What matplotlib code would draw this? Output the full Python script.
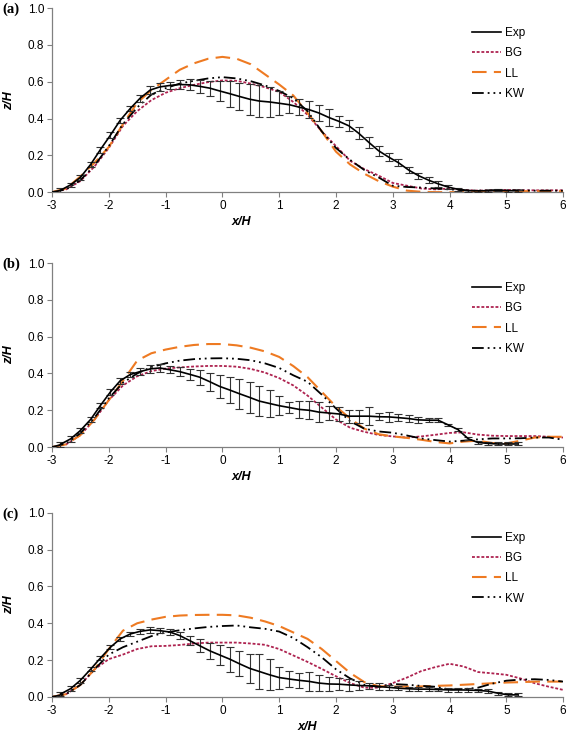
import matplotlib
matplotlib.use("Agg")
import matplotlib.pyplot as plt

plt.rcParams['font.family'] = ['Liberation Sans', 'DejaVu Sans']
plt.rcParams['axes.unicode_minus'] = False

# measurement stations (x/H) for the experiment
x_exp = [-2.85, -2.67, -2.5, -2.32, -2.15, -1.97, -1.8, -1.62, -1.45, -1.27, -1.1, -0.92,
         -0.75, -0.57, -0.4, -0.22, -0.05, 0.13, 0.3, 0.48, 0.65, 0.83, 1.0, 1.18, 1.35,
         1.53, 1.7, 1.88, 2.05, 2.23, 2.4, 2.58, 2.75, 2.93, 3.1, 3.28, 3.45, 3.63, 3.8,
         3.98, 4.15, 4.33, 4.5, 4.68, 4.85, 5.03, 5.2]

# model output grid (x/H)
x_mod = [-3.0, -2.75, -2.5, -2.25, -2.0, -1.75, -1.5, -1.25, -1.0, -0.75, -0.5, -0.25,
         0.0, 0.25, 0.5, 0.75, 1.0, 1.25, 1.5, 1.75, 2.0, 2.25, 2.5, 2.75, 3.0, 3.25,
         3.5, 3.75, 4.0, 4.25, 4.5, 4.75, 5.0, 5.25, 5.5, 5.75, 6.0]

# ---- panel (a)
exp_a = [0.01, 0.04, 0.08, 0.15, 0.23, 0.31, 0.39, 0.455, 0.51, 0.555, 0.572, 0.58,
         0.585, 0.583, 0.575, 0.565, 0.55, 0.535, 0.52, 0.505, 0.495, 0.49, 0.483, 0.475,
         0.462, 0.448, 0.43, 0.405, 0.385, 0.36, 0.32, 0.27, 0.225, 0.19, 0.16, 0.12,
         0.09, 0.065, 0.045, 0.027, 0.015, 0.008, 0.007, 0.008, 0.01, 0.008, 0.008]
err_a = [0.015, 0.012, 0.015, 0.015, 0.015, 0.015, 0.015, 0.015, 0.02, 0.02, 0.02, 0.02,
         0.025, 0.03, 0.035, 0.04, 0.055, 0.07, 0.075, 0.085, 0.088, 0.082, 0.065, 0.045,
         0.045, 0.045, 0.045, 0.045, 0.03, 0.03, 0.032, 0.028, 0.027, 0.023, 0.02, 0.018,
         0.016, 0.015, 0.015, 0.01, 0.008, 0.005, 0.005, 0.005, 0.005, 0.005, 0.005]
bg_a = [0.0, 0.015, 0.06, 0.14, 0.24, 0.36, 0.44, 0.50, 0.54, 0.565, 0.583, 0.598,
        0.607, 0.605, 0.59, 0.57, 0.545, 0.49, 0.42, 0.33, 0.25, 0.17, 0.125, 0.09,
        0.05, 0.035, 0.02, 0.015, 0.02, 0.012, 0.008, 0.01, 0.012, 0.01, 0.01, 0.01, 0.01]
ll_a = [0.0, 0.02, 0.085, 0.16, 0.245, 0.37, 0.485, 0.555, 0.61, 0.665, 0.70, 0.725,
        0.735, 0.725, 0.695, 0.64, 0.585, 0.525, 0.43, 0.33, 0.22, 0.15, 0.10, 0.06,
        0.03, 0.008, 0.002, 0.0, 0.0, 0.0, 0.002, 0.003, 0.005, 0.005, 0.005, 0.005, 0.005]
kw_a = [0.0, 0.015, 0.065, 0.145, 0.25, 0.37, 0.46, 0.53, 0.565, 0.59, 0.605, 0.618,
        0.625, 0.618, 0.603, 0.58, 0.55, 0.51, 0.44, 0.33, 0.24, 0.175, 0.12, 0.08,
        0.035, 0.028, 0.025, 0.02, 0.015, 0.01, 0.008, 0.01, 0.01, 0.01, 0.008, 0.008, 0.008]

# ---- panel (b)
exp_b = [0.015, 0.045, 0.09, 0.15, 0.225, 0.30, 0.36, 0.395, 0.41, 0.425, 0.43, 0.42,
         0.41, 0.395, 0.38, 0.355, 0.33, 0.31, 0.29, 0.27, 0.25, 0.237, 0.225, 0.215,
         0.205, 0.2, 0.19, 0.185, 0.18, 0.168, 0.168, 0.168, 0.165, 0.164, 0.16, 0.155,
         0.148, 0.146, 0.146, 0.12, 0.095, 0.045, 0.025, 0.02, 0.017, 0.017, 0.017]
err_b = [0.015, 0.015, 0.015, 0.015, 0.015, 0.015, 0.015, 0.015, 0.02, 0.02, 0.02, 0.02,
         0.025, 0.03, 0.04, 0.05, 0.063, 0.072, 0.082, 0.085, 0.083, 0.075, 0.05, 0.031,
         0.045, 0.05, 0.054, 0.04, 0.036, 0.036, 0.036, 0.05, 0.018, 0.027, 0.02, 0.018,
         0.015, 0.012, 0.012, 0.008, 0.008, 0.008, 0.008, 0.008, 0.008, 0.008, 0.008]
bg_b = [0.0, 0.015, 0.065, 0.15, 0.255, 0.335, 0.385, 0.413, 0.427, 0.433, 0.438, 0.441,
        0.441, 0.437, 0.425, 0.405, 0.375, 0.335, 0.28, 0.215, 0.15, 0.105, 0.083, 0.066,
        0.058, 0.052, 0.058, 0.067, 0.077, 0.08, 0.068, 0.062, 0.06, 0.06, 0.06, 0.056, 0.052]
ll_b = [0.0, 0.015, 0.065, 0.15, 0.255, 0.36, 0.47, 0.51, 0.53, 0.545, 0.555, 0.56,
        0.56, 0.553, 0.54, 0.52, 0.49, 0.44, 0.38, 0.30, 0.22, 0.155, 0.10, 0.07,
        0.058, 0.05, 0.04, 0.028, 0.02, 0.03, 0.035, 0.022, 0.02, 0.035, 0.052, 0.056, 0.056]
kw_b = [0.0, 0.02, 0.075, 0.16, 0.265, 0.35, 0.40, 0.435, 0.455, 0.47, 0.478, 0.482,
        0.483, 0.48, 0.472, 0.455, 0.43, 0.39, 0.355, 0.285, 0.21, 0.14, 0.10, 0.085,
        0.078, 0.063, 0.047, 0.038, 0.03, 0.035, 0.042, 0.047, 0.047, 0.048, 0.052, 0.052, 0.04]

# ---- panel (c)
exp_c = [0.015, 0.045, 0.09, 0.15, 0.21, 0.27, 0.315, 0.342, 0.356, 0.364, 0.36, 0.352,
         0.333, 0.305, 0.278, 0.25, 0.228, 0.205, 0.18, 0.155, 0.138, 0.12, 0.105, 0.097,
         0.09, 0.084, 0.075, 0.07, 0.069, 0.065, 0.062, 0.06, 0.056, 0.052, 0.047, 0.044,
         0.042, 0.042, 0.04, 0.038, 0.038, 0.037, 0.035, 0.031, 0.02, 0.011, 0.011]
err_c = [0.012, 0.012, 0.012, 0.012, 0.012, 0.012, 0.012, 0.012, 0.012, 0.015, 0.015, 0.015,
         0.02, 0.025, 0.035, 0.045, 0.055, 0.068, 0.068, 0.08, 0.093, 0.085, 0.06, 0.042,
         0.04, 0.05, 0.045, 0.036, 0.032, 0.032, 0.023, 0.016, 0.018, 0.015, 0.012, 0.012,
         0.01, 0.01, 0.01, 0.01, 0.01, 0.01, 0.01, 0.01, 0.008, 0.008, 0.008]
bg_c = [0.0, 0.015, 0.065, 0.15, 0.205, 0.23, 0.26, 0.275, 0.277, 0.282, 0.29, 0.295,
        0.295, 0.295, 0.29, 0.283, 0.26, 0.225, 0.19, 0.152, 0.112, 0.075, 0.05, 0.05,
        0.075, 0.105, 0.14, 0.162, 0.18, 0.165, 0.135, 0.128, 0.12, 0.10, 0.074, 0.055, 0.038]
ll_c = [0.0, 0.015, 0.065, 0.15, 0.26, 0.36, 0.40, 0.42, 0.435, 0.442, 0.445, 0.446,
        0.446, 0.443, 0.43, 0.41, 0.385, 0.35, 0.315, 0.26, 0.195, 0.13, 0.08, 0.058,
        0.056, 0.056, 0.057, 0.06, 0.062, 0.066, 0.07, 0.074, 0.078, 0.08, 0.083, 0.083, 0.083]
kw_c = [0.0, 0.015, 0.065, 0.15, 0.23, 0.27, 0.30, 0.33, 0.35, 0.362, 0.372, 0.38,
        0.385, 0.388, 0.378, 0.37, 0.355, 0.32, 0.27, 0.215, 0.15, 0.10, 0.065, 0.055,
        0.07, 0.066, 0.06, 0.055, 0.04, 0.042, 0.05, 0.072, 0.088, 0.094, 0.096, 0.092, 0.083]

panels = [
    ('(a)', exp_a, err_a, bg_a, ll_a, kw_a, 0.740, 0.37),
    ('(b)', exp_b, err_b, bg_b, ll_b, kw_b, 0.395, 0.37),
    ('(c)', exp_c, err_c, bg_c, ll_c, kw_c, 0.057, 0.50),
]

x_ticks = [-3, -2, -1, 0, 1, 2, 3, 4, 5, 6]
y_ticks = [0.0, 0.2, 0.4, 0.6, 0.8, 1.0]

bg_color = '#AE2350'
ll_color = '#EE7A22'
spine_gray = '#808080'

fig = plt.figure(figsize=(5.68, 7.39), dpi=100)

for label, exp, err, bg, ll, kw, bottom, xlab_pos in panels:
    ax = fig.add_axes([0.0915, bottom, 0.9, 0.249])
    ax.plot(x_mod, bg, color=bg_color, lw=1.3, dashes=(1.6, 1.0), label='BG', zorder=2)
    ax.plot(x_mod, ll, color=ll_color, lw=1.5, dashes=(7, 3.5), label='LL', zorder=2)
    ax.plot(x_mod, kw, color='black', lw=1.3, dashes=(6.5, 2.2, 1, 2.2, 1, 2.2),
            label='KW', zorder=3)
    ax.errorbar(x_exp, exp, yerr=err, fmt='none', ecolor='#333333', elinewidth=0.8,
                capsize=2.6, capthick=0.8, zorder=4)
    ax.plot(x_exp, exp, color='black', lw=1.2, label='Exp', zorder=5)

    ax.set_xlim(-3, 6)
    ax.set_ylim(0, 1.0)
    ax.set_xticks(x_ticks)
    ax.set_xticklabels([str(t) for t in x_ticks])
    ax.set_yticks(y_ticks)
    ax.set_yticklabels(['%.1f' % t for t in y_ticks])
    ax.tick_params(labelsize=8.5, length=3.5, width=0.8, color=spine_gray, pad=2)
    for s in ['top', 'right']:
        ax.spines[s].set_visible(False)
    for s in ['left', 'bottom']:
        ax.spines[s].set_color(spine_gray)
        ax.spines[s].set_linewidth(0.9)

    ax.set_ylabel('z/H', fontsize=9, fontweight='bold', style='italic')
    ax.yaxis.set_label_coords(-0.072, 0.5)
    ax.set_xlabel('x/H', fontsize=9, fontweight='bold', style='italic')
    ax.xaxis.set_label_coords(xlab_pos, -0.13)

    handles, labels = ax.get_legend_handles_labels()
    order = [3, 0, 1, 2]
    ax.legend([handles[i] for i in order], [labels[i] for i in order],
              loc='upper left', bbox_to_anchor=(0.8, 0.955), frameon=False,
              fontsize=8.5, handlelength=2.5, handletextpad=0.3, labelspacing=0.7)

    fig.text(0.004, bottom + 0.247, label, fontsize=10.5, fontweight='bold',
             family='Liberation Serif', ha='left', va='center')

fig.savefig('out.png', dpi=100)
